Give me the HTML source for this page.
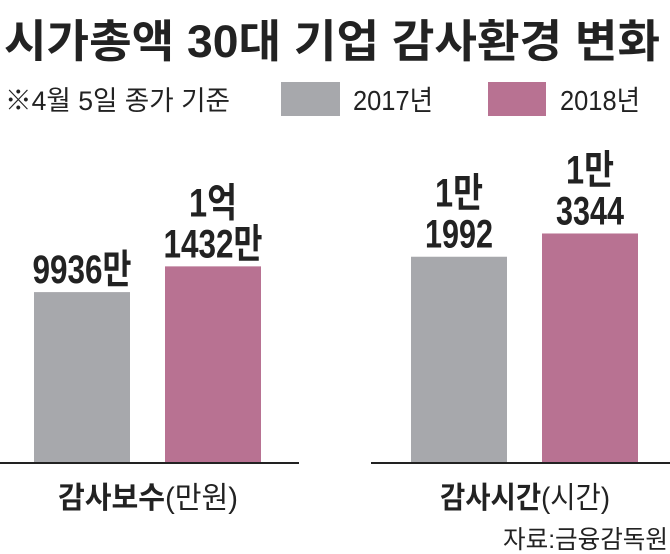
<!DOCTYPE html>
<html><head><meta charset="utf-8"><style>
html,body{margin:0;padding:0;background:#fff;}
svg{display:block;font-family:"Liberation Sans","Noto Sans CJK KR",sans-serif;}
</style></head><body>
<svg id="chart" width="670" height="554" viewBox="0 0 670 554">
<text x="4" y="57" font-size="45" font-weight="bold" fill="#222" textLength="656" lengthAdjust="spacingAndGlyphs">시가총액 30대 기업 감사환경 변화</text>
<text x="5" y="110" font-size="27" fill="#222" textLength="225" lengthAdjust="spacingAndGlyphs">※4월 5일 종가 기준</text>
<rect x="281" y="82" width="59" height="34" fill="#a7a8ac"/>
<text x="353" y="110" font-size="28" fill="#222" textLength="80" lengthAdjust="spacingAndGlyphs">2017년</text>
<rect x="488" y="82" width="58" height="34" fill="#b87292"/>
<text x="560" y="110" font-size="28" fill="#222" textLength="80" lengthAdjust="spacingAndGlyphs">2018년</text>
<g id="marks"></g>
<line x1="0" y1="463" x2="299" y2="463" stroke="#222" stroke-width="2"/>
<line x1="371" y1="463" x2="670" y2="463" stroke="#222" stroke-width="2"/>
<text x="148" y="508" font-size="30" fill="#222" text-anchor="middle" textLength="180" lengthAdjust="spacingAndGlyphs"><tspan font-weight="bold">감사보수</tspan>(만원)</text>
<text x="525" y="508" font-size="30" fill="#222" text-anchor="middle" textLength="170" lengthAdjust="spacingAndGlyphs"><tspan font-weight="bold">감사시간</tspan>(시간)</text>
<text x="668" y="548" font-size="25" fill="#222" text-anchor="end" textLength="165" lengthAdjust="spacingAndGlyphs">자료:금융감독원</text>
</svg>
<script>
const categories = ["감사보수", "감사시간"];
const values2017 = [9936, 11992];
const values2018 = [11432, 13344];
const labels2017 = [["9936만"], ["1만", "1992"]];
const labels2018 = [["1억", "1432만"], ["1만", "3344"]];

const NS = "http://www.w3.org/2000/svg";
const baseY = 463, scale = 0.0172;
const groupX = [34, 411];
const barW = 96, gap = 131;
const y = v => baseY - v * scale;
const g = document.getElementById("marks");
function bar(x, v, color, name) {
  const r = document.createElementNS(NS, "rect");
  r.setAttribute("x", x); r.setAttribute("y", y(v));
  r.setAttribute("width", barW); r.setAttribute("height", baseY - y(v));
  r.setAttribute("fill", color);
  
  
  g.appendChild(r);
}
function label(x, v, lines, name) {
  const n = lines.length;
  lines.forEach((s, i) => {
    const t = document.createElementNS(NS, "text");
    t.setAttribute("x", x + barW / 2);
    t.setAttribute("y", y(v) - 9 - (n - 1 - i) * 41);
    t.setAttribute("text-anchor", "middle");
    t.setAttribute("font-size", "40");
    t.setAttribute("font-weight", "bold");
    t.setAttribute("fill", "#222");
    t.setAttribute("textLength", s.length * 17 + (/[만억]/.test(s) ? 14 : 0));
    t.setAttribute("lengthAdjust", "spacingAndGlyphs");
    t.textContent = s;
    
    
    g.appendChild(t);
  });
}
categories.forEach((c, i) => {
  const x0 = groupX[i], x1 = groupX[i] + gap;
  bar(x0, values2017[i], "#a7a8ac", "bar-2017-" + i);
  bar(x1, values2018[i], "#b87292", "bar-2018-" + i);
  label(x0, values2017[i], labels2017[i], "value-label-2017-" + i);
  label(x1, values2018[i], labels2018[i], "value-label-2018-" + i);
});
</script>
</body></html>
